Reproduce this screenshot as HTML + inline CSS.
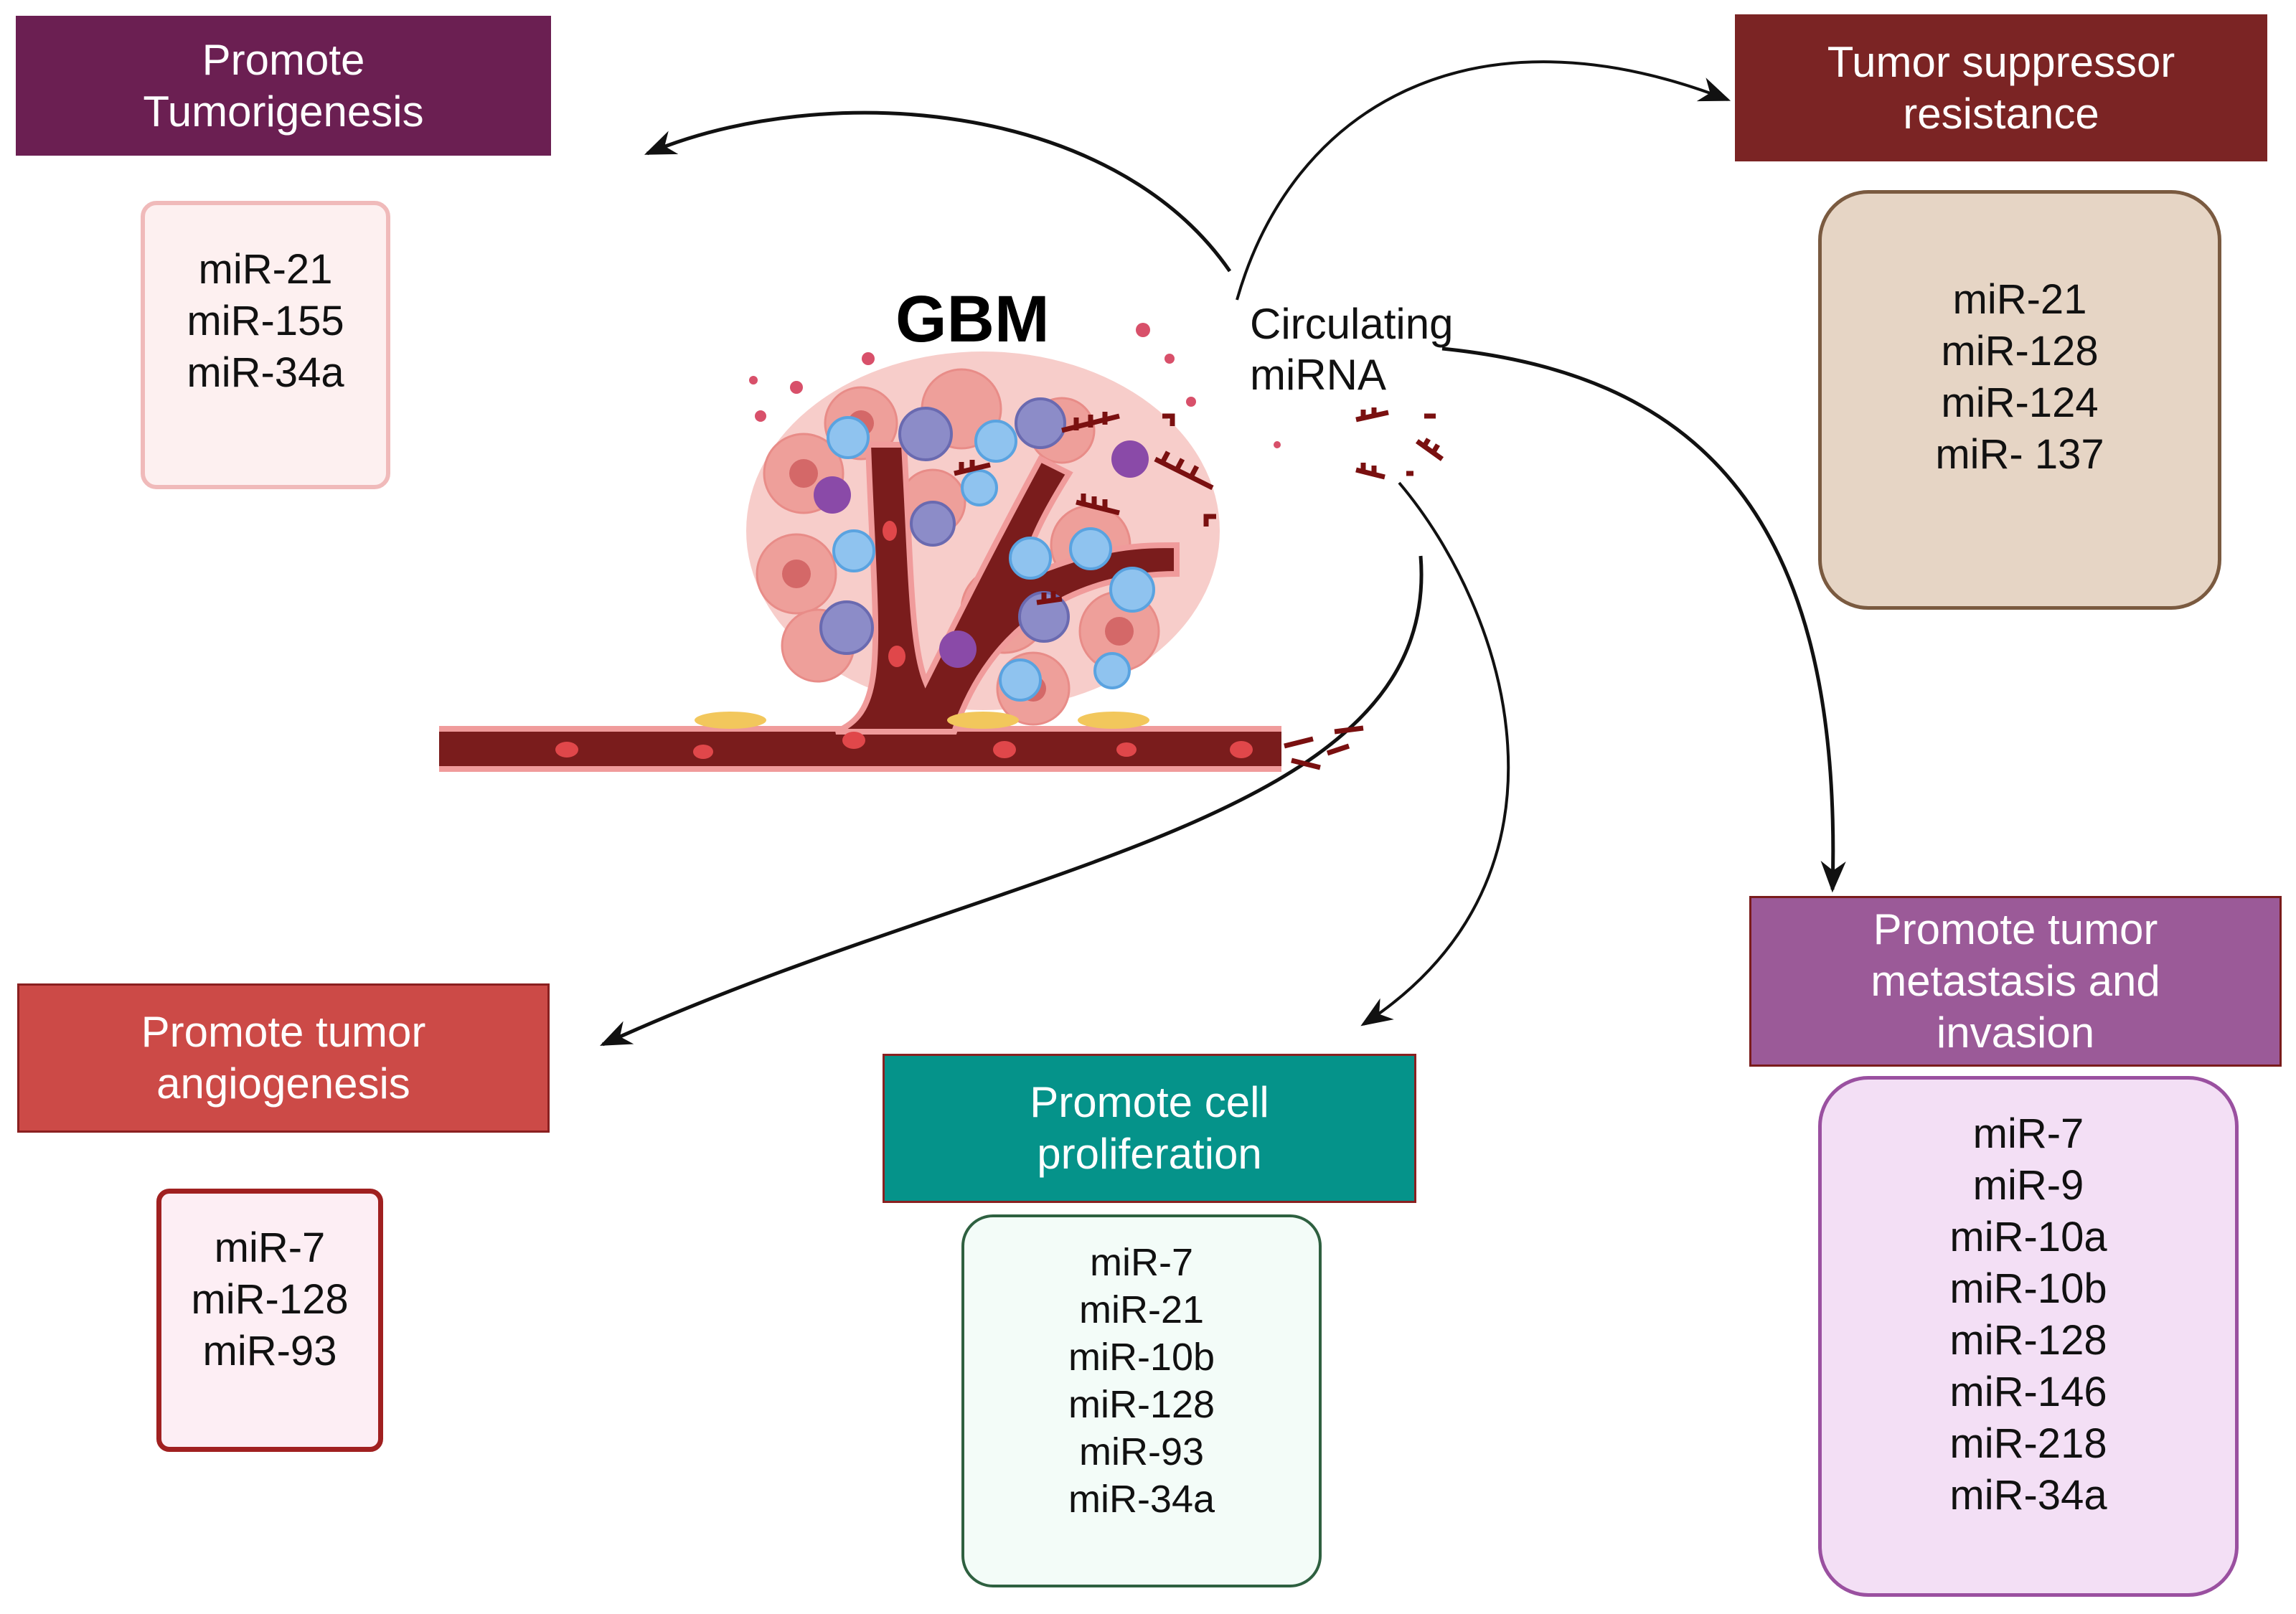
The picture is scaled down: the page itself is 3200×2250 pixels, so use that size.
<!DOCTYPE html>
<html><head><meta charset="utf-8"><style>
html,body{margin:0;padding:0;background:#fff}
body{width:3200px;height:2250px;position:relative;overflow:hidden;font-family:"Liberation Sans",Arial,sans-serif}
.h{position:absolute;color:#fff;display:flex;align-items:center;justify-content:center;text-align:center;font-size:60px;line-height:72px;box-sizing:border-box}
.b{position:absolute;box-sizing:border-box;display:flex;align-items:center;justify-content:center;text-align:center;font-size:58px;line-height:72px;color:#111}
</style></head><body>
<svg width="3200" height="2250" style="position:absolute;left:0;top:0">
<defs>
<marker id="a" markerWidth="44" markerHeight="36" refX="9" refY="4" orient="auto" markerUnits="userSpaceOnUse" viewBox="0 0 10 8"><path d="M0,0 L10,4 L0,8 L3,4z" fill="#111"/></marker>
</defs>
<g fill="none" stroke="#111">
<path d="M1714,378 C1550,140 1150,110 902,214" stroke-width="5" marker-end="url(#a)"/>
<path d="M1724,418 C1800,150 2050,0 2408,139" stroke-width="4" marker-end="url(#a)"/>
<path d="M2010,486 C2350,520 2570,700 2554,1240" stroke-width="5" marker-end="url(#a)"/>
<path d="M1950,673 C2100,850 2220,1220 1900,1428" stroke-width="4" marker-end="url(#a)"/>
<path d="M1980,775 C2010,1150 1400,1200 840,1456" stroke-width="5" marker-end="url(#a)"/>
</g>
<g>
<ellipse cx="1370" cy="740" rx="330" ry="250" fill="#f3b8b4" opacity="0.7"/>
<g fill="#ee9f9a" stroke="#e88c88" stroke-width="3">
<circle cx="1120" cy="660" r="55"/><circle cx="1200" cy="590" r="50"/><circle cx="1340" cy="570" r="55"/><circle cx="1110" cy="800" r="55"/><circle cx="1140" cy="900" r="50"/><circle cx="1400" cy="850" r="60"/><circle cx="1520" cy="760" r="55"/><circle cx="1560" cy="880" r="55"/><circle cx="1440" cy="960" r="50"/><circle cx="1300" cy="700" r="45"/><circle cx="1480" cy="600" r="45"/>
</g>
<g fill="#d46868"><circle cx="1120" cy="660" r="20"/><circle cx="1110" cy="800" r="20"/><circle cx="1400" cy="850" r="22"/><circle cx="1560" cy="880" r="20"/><circle cx="1200" cy="590" r="18"/><circle cx="1440" cy="960" r="18"/></g>
<path d="M612,1012 L1786,1012 L1786,1076 L612,1076Z" fill="#f09b9b"/>
<path d="M612,1020 L1786,1020 L1786,1068 L612,1068Z" fill="#7a1c1c"/>
<path d="M1165,1020 C1240,990 1220,900 1210,620 L1260,620 C1270,800 1270,900 1290,950 C1340,850 1380,770 1450,640 L1490,660 C1440,740 1420,790 1440,800 C1540,760 1590,760 1640,760 L1640,800 C1500,800 1380,870 1330,1020Z" fill="#7a1c1c" stroke="#f09b9b" stroke-width="8"/>
<g fill="#e0474a"><ellipse cx="790" cy="1045" rx="16" ry="11"/><ellipse cx="980" cy="1048" rx="14" ry="10"/><ellipse cx="1190" cy="1032" rx="16" ry="12"/><ellipse cx="1400" cy="1045" rx="16" ry="12"/><ellipse cx="1570" cy="1045" rx="14" ry="10"/><ellipse cx="1730" cy="1045" rx="16" ry="12"/><ellipse cx="1250" cy="915" rx="12" ry="15"/><ellipse cx="1240" cy="740" rx="10" ry="14"/></g>
<g fill="#f2c75c"><ellipse cx="1018" cy="1004" rx="50" ry="12"/><ellipse cx="1370" cy="1004" rx="50" ry="12"/><ellipse cx="1552" cy="1004" rx="50" ry="12"/></g>
<g fill="#8fc3ef" stroke="#5aa3e0" stroke-width="4">
<circle cx="1182" cy="610" r="28"/><circle cx="1388" cy="615" r="28"/><circle cx="1190" cy="768" r="28"/><circle cx="1436" cy="778" r="28"/><circle cx="1520" cy="765" r="28"/><circle cx="1578" cy="822" r="30"/><circle cx="1422" cy="948" r="28"/><circle cx="1550" cy="935" r="24"/><circle cx="1365" cy="680" r="24"/>
</g>
<g fill="#8c8cc8" stroke="#6a6ab0" stroke-width="4"><circle cx="1290" cy="605" r="36"/><circle cx="1180" cy="875" r="36"/><circle cx="1455" cy="860" r="34"/><circle cx="1450" cy="590" r="34"/><circle cx="1300" cy="730" r="30"/></g>
<g fill="#8a4aa8"><circle cx="1160" cy="690" r="26"/><circle cx="1575" cy="640" r="26"/><circle cx="1335" cy="905" r="26"/></g>
<g fill="#d8506a"><circle cx="1210" cy="500" r="9"/><circle cx="1110" cy="540" r="9"/><circle cx="1060" cy="580" r="8"/><circle cx="1593" cy="460" r="10"/><circle cx="1630" cy="500" r="7"/><circle cx="1660" cy="560" r="7"/><circle cx="1050" cy="530" r="6"/><circle cx="1780" cy="620" r="5"/></g>
<g stroke="#7a1010" stroke-width="7" fill="none">
<path d="M1480,600 L1560,580 M1500,600 v-18 M1520,596 v-18 M1540,592 v-18"/>
<path d="M1610,640 L1690,680 M1620,645 l8,-15 M1640,655 l8,-15 M1660,665 l8,-15"/>
<path d="M1330,660 L1380,648 M1340,658 v-14 M1355,655 v-14"/>
<path d="M1500,700 L1560,715 M1510,702 v-14 M1525,706 v-14 M1540,710 v-14"/>
<path d="M1890,585 L1935,575 M1900,583 v-12 M1915,580 v-12"/>
<path d="M1890,655 L1930,665 M1900,657 v-12 M1915,661 v-12"/>
<path d="M1975,615 L2010,640 M1985,622 l6,-10 M1998,630 l6,-10"/>
<path d="M1445,840 L1480,835 M1455,838 v-12 M1468,836 v-12"/>
<path d="M1790,1040 L1830,1030 M1850,1050 L1880,1040 M1800,1060 L1840,1070 M1860,1020 L1900,1015"/>
<path d="M1620,580 h14 v14 M1695,720 h-14 v14 M1985,580 h16 M1960,660 h10"/>
</g>
</g>
<text x="1248" y="476" font-family="Liberation Sans" font-weight="bold" font-size="92" fill="#000">GBM</text>
<text x="1742" y="472" font-family="Liberation Sans" font-size="60" fill="#111">Circulating</text>
<text x="1742" y="543" font-family="Liberation Sans" font-size="60" fill="#111">miRNA</text>
</svg>

<div class="h" style="left:22px;top:22px;width:746px;height:195px;background:#6b1f52">Promote<br>Tumorigenesis</div>
<div class="b" style="left:196px;top:280px;width:348px;height:402px;background:#fdf0f0;border:6px solid #f0baba;border-radius:22px;align-items:flex-start;padding-top:54px">miR-21<br>miR-155<br>miR-34a</div>

<div class="h" style="left:2418px;top:20px;width:742px;height:205px;background:#7b2424">Tumor suppressor<br>resistance</div>
<div class="b" style="left:2534px;top:265px;width:562px;height:585px;background:#e6d5c5;border:5px solid #7a5a40;border-radius:70px;align-items:flex-start;padding-top:112px">miR-21<br>miR-128<br>miR-124<br>miR- 137</div>

<div class="h" style="left:2438px;top:1249px;width:742px;height:238px;background:#9b5a98;border:3px solid #7a1c1c">Promote tumor<br>metastasis and<br>invasion</div>
<div class="b" style="left:2534px;top:1500px;width:586px;height:726px;background:#f3dff5;border:5px solid #9a50a0;border-radius:70px;align-items:flex-start;padding-top:40px">miR-7<br>miR-9<br>miR-10a<br>miR-10b<br>miR-128<br>miR-146<br>miR-218<br>miR-34a</div>

<div class="h" style="left:24px;top:1371px;width:742px;height:208px;background:#cc4a47;border:3px solid #8a2020">Promote tumor<br>angiogenesis</div>
<div class="b" style="left:218px;top:1657px;width:316px;height:367px;background:#fdeef4;border:7px solid #a02020;border-radius:18px;align-items:flex-start;padding-top:40px">miR-7<br>miR-128<br>miR-93</div>

<div class="h" style="left:1230px;top:1469px;width:744px;height:208px;background:#05938a;border:3px solid #8a2020">Promote cell<br>proliferation</div>
<div class="b" style="left:1340px;top:1693px;width:502px;height:520px;background:#f3fcf8;border:4px solid #2e6040;border-radius:44px;align-items:flex-start;padding-top:30px;font-size:54px;line-height:66px">miR-7<br>miR-21<br>miR-10b<br>miR-128<br>miR-93<br>miR-34a</div>
</body></html>
